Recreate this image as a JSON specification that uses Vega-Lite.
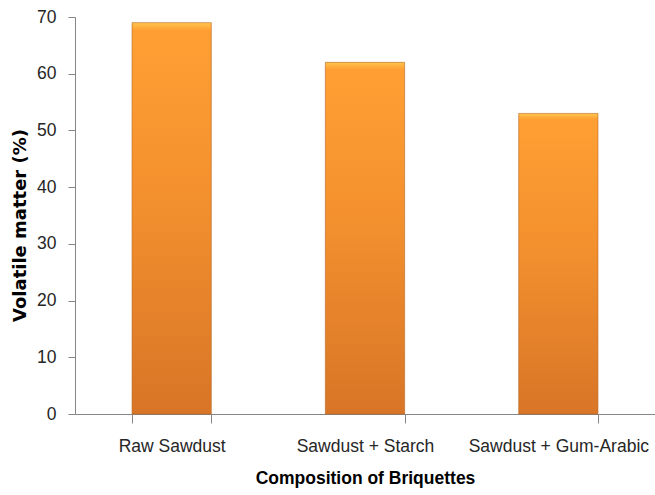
{
  "$schema": "https://vega.github.io/schema/vega-lite/v6.json",
  "autosize": "none",
  "width": 580,
  "height": 397,
  "padding": {"left": 75, "top": 17, "right": 0, "bottom": 81},
  "background": "white",
  "config": {"view": {"stroke": null}},
  "data": {
    "values": [
      {"composition": "Raw Sawdust", "volatile": 69},
      {"composition": "Sawdust + Starch", "volatile": 62},
      {"composition": "Sawdust + Gum-Arabic", "volatile": 53}
    ]
  },
  "mark": {
    "type": "bar",
    "stroke": "#b8651f",
    "strokeWidth": 1,
    "strokeOpacity": 0.6,
    "color": {
      "gradient": "linear",
      "x1": 0, "y1": 0, "x2": 0, "y2": 1,
      "stops": [
        {"offset": 0, "color": "#ffc54d"},
        {"offset": 0.02, "color": "#ff9f33"},
        {"offset": 0.45, "color": "#f3902e"},
        {"offset": 1, "color": "#d87527"}
      ]
    }
  },
  "encoding": {
    "x": {
      "field": "composition",
      "type": "nominal",
      "sort": null,
      "scale": {"paddingInner": 0.59, "paddingOuter": 0.295},
      "axis": {
        "title": "Composition of Briquettes",
        "labelAngle": 0,
        "labelLimit": 0,
        "tickBand": "extent",
        "domainColor": "#868686",
        "tickColor": "#868686",
        "tickSize": 9,
        "labelPadding": 14,
        "labelFont": "Liberation Sans",
        "labelFontSize": 17.5,
        "labelColor": "#262626",
        "titleFont": "Liberation Sans",
        "titleFontSize": 17.5,
        "titleFontWeight": "bold",
        "titleColor": "#000000",
        "titlePadding": 15
      }
    },
    "y": {
      "field": "volatile",
      "type": "quantitative",
      "scale": {"domain": [0, 70]},
      "axis": {
        "title": "Volatile matter (%)",
        "values": [0, 10, 20, 30, 40, 50, 60, 70],
        "grid": false,
        "domainColor": "#868686",
        "tickColor": "#868686",
        "tickSize": 7,
        "labelPadding": 12,
        "labelFont": "Liberation Sans",
        "labelFontSize": 17.5,
        "labelColor": "#262626",
        "titleFont": "DejaVu Sans",
        "titleFontSize": 18,
        "titleFontWeight": "bold",
        "titleColor": "#000000",
        "titlePadding": 7,
        "titleY": 208
      }
    }
  }
}
